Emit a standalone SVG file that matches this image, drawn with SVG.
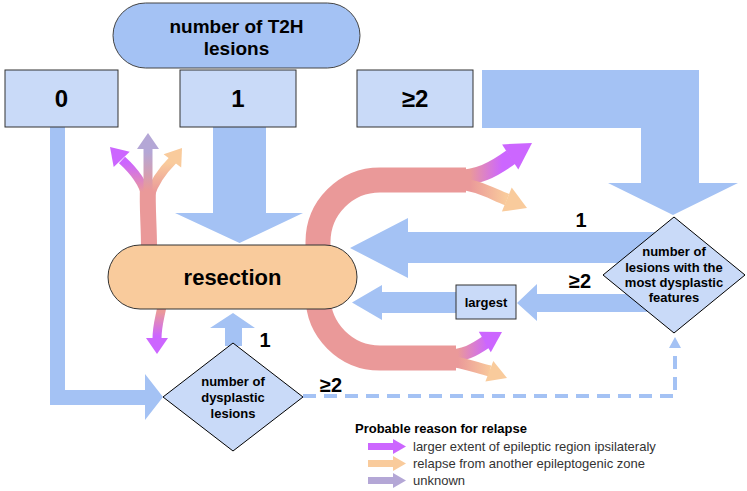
<svg xmlns="http://www.w3.org/2000/svg" width="747" height="491" viewBox="0 0 747 491">
<style>
.b{fill:#a4c2f4}
.lt{fill:#c9daf8;stroke:#333;stroke-width:1}
.t{font-family:"Liberation Sans",Arial,sans-serif;font-weight:bold;fill:#000;text-anchor:middle}
.lg{font-family:"Liberation Sans",Arial,sans-serif;font-size:13px;fill:#333}
.red{fill:none;stroke:#ea9999}
</style>
<defs>
<linearGradient id="gTopP" gradientUnits="userSpaceOnUse" x1="470" y1="0" x2="502" y2="0"><stop offset="0" stop-color="#ea9999"/><stop offset="1" stop-color="#cc66ff"/></linearGradient>
<linearGradient id="gTopO" gradientUnits="userSpaceOnUse" x1="470" y1="0" x2="506" y2="0"><stop offset="0" stop-color="#ea9999"/><stop offset="1" stop-color="#f9cb9c"/></linearGradient>
<linearGradient id="gBotP" gradientUnits="userSpaceOnUse" x1="458" y1="0" x2="488" y2="0"><stop offset="0" stop-color="#ea9999"/><stop offset="1" stop-color="#cc66ff"/></linearGradient>
<linearGradient id="gBotO" gradientUnits="userSpaceOnUse" x1="458" y1="0" x2="492" y2="0"><stop offset="0" stop-color="#ea9999"/><stop offset="1" stop-color="#f9cb9c"/></linearGradient>
<linearGradient id="gFP" gradientUnits="userSpaceOnUse" x1="0" y1="192" x2="0" y2="163"><stop offset="0" stop-color="#ea9999"/><stop offset="1" stop-color="#cc66ff"/></linearGradient>
<linearGradient id="gFL" gradientUnits="userSpaceOnUse" x1="0" y1="190" x2="0" y2="152"><stop offset="0" stop-color="#ea9999"/><stop offset="1" stop-color="#b4a7d6"/></linearGradient>
<linearGradient id="gFO" gradientUnits="userSpaceOnUse" x1="0" y1="192" x2="0" y2="163"><stop offset="0" stop-color="#ea9999"/><stop offset="1" stop-color="#f9cb9c"/></linearGradient>
<linearGradient id="gDn" gradientUnits="userSpaceOnUse" x1="0" y1="312" x2="0" y2="336"><stop offset="0" stop-color="#ea9999"/><stop offset="1" stop-color="#cc66ff"/></linearGradient>
</defs>
<rect width="747" height="491" fill="#fff"/>
<g id="connectors">
<!-- blue flow arrows -->
<polygon class="b" points="213,127 266,127 266,213 303,213 239.5,243 175,213 213,213"/>
<polygon class="b" points="482,70 699,70 699,183 738,183 673,215 608,183 641,183 641,128 482,128"/>
<polygon class="b" points="50,127 65,127 65,390 145,390 145,374 163,397 145,420 145,405 50,405"/>
<polygon class="b" points="665,232 408,232 408,218 350,248 408,278 408,263 665,263"/>
<polygon class="b" points="655,294 537,294 537,284 517,303 537,321 537,312 655,312"/>
<polygon class="b" points="456,292 382,292 382,285 352,302.5 382,320 382,313 456,313"/>
<polygon class="b" points="225,346 225,328 210,328 233,313 255,328 242,328 242,346"/>
<path d="M303,396 L675,396 L675,347" fill="none" stroke="#a4c2f4" stroke-width="4" stroke-dasharray="13 8"/>
<polygon class="b" points="669,348 681,348 675,337"/>
<!-- red U relapse curve -->
<path class="red" stroke-width="25" d="M466,180 L380,180 A62,62 0 0 0 318,242 L318,296 A62,62 0 0 0 380,358 L456,358"/>
<path fill="none" stroke="url(#gTopP)" stroke-width="16" d="M455,178 C478,178 493,170 511,157"/>
<polygon fill="#cc66ff" points="532,143 518.3,169.6 502.1,144.4"/>
<path fill="none" stroke="url(#gTopO)" stroke-width="12" d="M455,183 C478,185 490,193 507,199.6"/>
<polygon fill="#f9cb9c" points="527,208 501.9,211.6 511.7,187.6"/>
<path fill="none" stroke="url(#gBotP)" stroke-width="13" d="M445,356 C465,356 474,350 486,342"/>
<polygon fill="#cc66ff" points="502,332 490.8,352.3 478.8,331.7"/>
<path fill="none" stroke="url(#gBotO)" stroke-width="11" d="M445,361 C465,362 476,368 490,371"/>
<polygon fill="#f9cb9c" points="507,378 485.4,381.4 493.3,361"/>
<!-- fountain above resection -->
<path class="red" stroke-width="16" d="M149,247 C149,225 147,205 148,188"/>
<path fill="none" stroke="url(#gFP)" stroke-width="9" d="M146,196 C143,182 133,170 122,160"/>
<polygon fill="#cc66ff" points="110,147 129.7,151.8 113.7,167"/>
<path fill="none" stroke="url(#gFO)" stroke-width="9" d="M150,196 C154,182 163,170 173,160"/>
<polygon fill="#f9cb9c" points="182,148 181.2,167.4 163.6,154.2"/>
<path fill="none" stroke="url(#gFL)" stroke-width="9" d="M148,194 L148,148"/>
<polygon fill="#b4a7d6" points="148,133 159,149 137,149"/>
<!-- small arrow below resection -->
<path fill="none" stroke="url(#gDn)" stroke-width="9" d="M162,306 C160,318 157,325 157,339"/>
<polygon fill="#cc66ff" points="146,338 168,338 157,354"/>
<!-- branch labels -->
<text class="t" x="581" y="227" font-size="20">1</text>
<text class="t" x="580" y="288" font-size="20">≥2</text>
<text class="t" x="265" y="347" font-size="20">1</text>
<text class="t" x="331" y="392" font-size="20">≥2</text>
</g>
<g id="node-t2h">
<rect x="113" y="3" width="247" height="65" rx="32.5" fill="#a4c2f4" stroke="#444" stroke-width="1"/>
<text class="t" x="236.5" y="33" font-size="19">number of T2H</text>
<text class="t" x="236.5" y="55" font-size="19">lesions</text>
</g>
<g id="node-0">
<rect class="lt" x="5" y="70" width="113" height="57"/>
<text class="t" x="61.5" y="107" font-size="24">0</text>
</g>
<g id="node-1">
<rect class="lt" x="180" y="70" width="116" height="57"/>
<text class="t" x="238" y="107" font-size="24">1</text>
</g>
<g id="node-2plus">
<rect class="lt" x="357" y="70" width="116" height="57"/>
<text class="t" x="415" y="107" font-size="24">≥2</text>
</g>
<g id="node-resection">
<rect x="108" y="245" width="249" height="64" rx="32" fill="#f9cb9c" stroke="#333" stroke-width="1"/>
<text class="t" x="232.5" y="285" font-size="22">resection</text>
</g>
<g id="node-dysplastic">
<polygon points="233,343 303,397 233,451 163,397" fill="#c9daf8" stroke="#000" stroke-width="1"/>
<text class="t" x="233" y="386" font-size="13">number of</text>
<text class="t" x="233" y="402" font-size="13">dysplastic</text>
<text class="t" x="233" y="418" font-size="13">lesions</text>
</g>
<g id="node-most-dysplastic">
<polygon points="674,217 745,275 674,333 603,275" fill="#c9daf8" stroke="#000" stroke-width="1"/>
<text class="t" x="674" y="256" font-size="13">number of</text>
<text class="t" x="674" y="272" font-size="13">lesions with the</text>
<text class="t" x="674" y="287" font-size="13">most dysplastic</text>
<text class="t" x="674" y="302" font-size="13">features</text>
</g>
<g id="node-largest">
<rect class="lt" x="456" y="285" width="60" height="34"/>
<text class="t" x="486" y="307" font-size="13">largest</text>
</g>
<g id="legend">
<text class="t" x="355" y="433" font-size="13" text-anchor="start" style="text-anchor:start">Probable reason for relapse</text>
<rect x="368" y="443" width="26" height="7" fill="#cc66ff"/>
<polygon points="393,439 406,446.5 393,454" fill="#cc66ff"/>
<text class="lg" x="413" y="451">larger extent of epileptic region ipsilateraly</text>
<rect x="368" y="460" width="26" height="7" fill="#f9cb9c"/>
<polygon points="393,456 406,463.5 393,471" fill="#f9cb9c"/>
<text class="lg" x="413" y="468">relapse from another epileptogenic zone</text>
<rect x="368" y="477" width="26" height="7" fill="#b4a7d6"/>
<polygon points="393,473 406,480.5 393,488" fill="#b4a7d6"/>
<text class="lg" x="413" y="485">unknown</text>
</g>
</svg>
